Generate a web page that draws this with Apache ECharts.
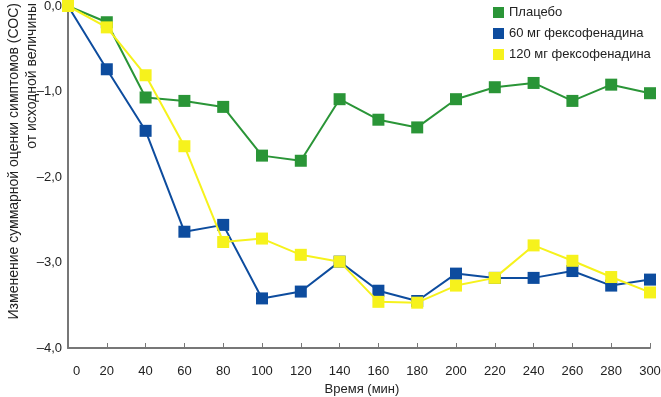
<!DOCTYPE html>
<html>
<head>
<meta charset="utf-8">
<script src="https://cdn.jsdelivr.net/npm/echarts@6/dist/echarts.min.js"></script>
<style>
    html, body { margin: 0; padding: 0; background: #fff; }
    #chart { width: 661px; height: 397px; }
</style>
</head>
<body>
<div id="chart"></div>
<script>
    // minutes after dose
    var times = [0, 20, 40, 60, 80, 100, 120, 140, 160, 180, 200, 220, 240, 260, 280, 300];

    var placebo = [0, -0.19, -1.07, -1.11, -1.18, -1.75, -1.81, -1.09, -1.33, -1.42, -1.09, -0.95, -0.90, -1.11, -0.92, -1.02];
    var fexo60 = [0, -0.74, -1.46, -2.64, -2.56, -3.42, -3.34, -2.99, -3.33, -3.45, -3.13, -3.18, -3.18, -3.10, -3.27, -3.20];
    var fexo120 = [0, -0.25, -0.81, -1.64, -2.76, -2.72, -2.91, -2.99, -3.46, -3.47, -3.27, -3.18, -2.80, -2.98, -3.17, -3.35];

    var seriesNames = ['Плацебо', '60 мг фексофенадина', '120 мг фексофенадина'];
    var colors = ['#2a9537', '#0d4c9e', '#f6f21c'];

    var yTicks = [0, -1, -2, -3, -4];
    var yTitle = 'Изменение суммарной оценки симптомов (СОС)\nот исходной величины';

    function pairs(values) {
        return times.map(function (t, i) {
            return [t, values[i]];
        });
    }

    var chart = echarts.init(document.getElementById('chart'));

    var font = 'Liberation Sans';

    chart.setOption({
        animation: false,
        backgroundColor: '#fff',
        color: colors,
        textStyle: { fontFamily: font },
        grid: {
            left: 68,
            right: 11,
            top: 6,
            bottom: 49,
            outerBoundsMode: 'none'
        },
        // y title: second line is aligned to the top end of the first
        graphic: [{
            type: 'text',
            x: 5,
            y: 3,
            rotation: Math.PI / 2,
            style: {
                text: yTitle,
                font: '14px "Liberation Sans"',
                fill: '#222',
                lineHeight: 18,
                textAlign: 'right',
                align: 'right',
                textVerticalAlign: 'top',
                verticalAlign: 'top'
            }
        }],
        legend: {
            orient: 'vertical',
            left: 488,
            top: 1,
            itemWidth: 11,
            itemHeight: 11,
            itemGap: 8,
            icon: 'rect',
            data: seriesNames,
            textStyle: {
                fontFamily: font,
                fontSize: 13,
                color: '#222'
            }
        },
        xAxis: {
            type: 'value',
            min: 0,
            max: 300,
            interval: 20,
            name: 'Время (мин)',
            nameLocation: 'middle',
            nameGap: 31,
            nameTextStyle: { fontSize: 13, color: '#222', padding: [0, 0, 0, 6] },
            axisLine: { onZero: false, lineStyle: { color: '#777', width: 2 } },
            axisTick: {
                inside: true,
                length: 5,
                lineStyle: { color: '#777' }
            },
            splitLine: { show: false },
            axisLabel: {
                margin: 17,
                fontSize: 13,
                color: '#222',
                formatter: function (v) {
                    return v === 0 ? '{z|0}' : String(v);
                },
                rich: {
                    z: { fontSize: 13, color: '#222', padding: [0, 0, 0, 17] }
                }
            }
        },
        yAxis: {
            type: 'value',
            min: yTicks[yTicks.length - 1],
            max: yTicks[0],
            interval: 1,
            axisLine: { show: true, onZero: false, lineStyle: { color: '#777', width: 2 } },
            axisTick: { show: false },
            splitLine: { show: false },
            axisLabel: {
                margin: 6,
                fontSize: 13,
                color: '#222',
                formatter: function (v) {
                    return (v < 0 ? '–' : '') + Math.abs(v).toFixed(1).replace('.', ',');
                }
            }
        },
        series: [
            {
                name: seriesNames[0],
                type: 'line',
                symbol: 'rect',
                symbolSize: 12,
                lineStyle: { width: 2 },
                z: 2,
                data: pairs(placebo)
            },
            {
                name: seriesNames[1],
                type: 'line',
                symbol: 'rect',
                symbolSize: 12,
                lineStyle: { width: 2 },
                z: 3,
                data: pairs(fexo60)
            },
            {
                name: seriesNames[2],
                type: 'line',
                symbol: 'rect',
                symbolSize: 12,
                lineStyle: { width: 2 },
                z: 4,
                data: pairs(fexo120)
            }
        ]
    });
</script>
</body>
</html>
